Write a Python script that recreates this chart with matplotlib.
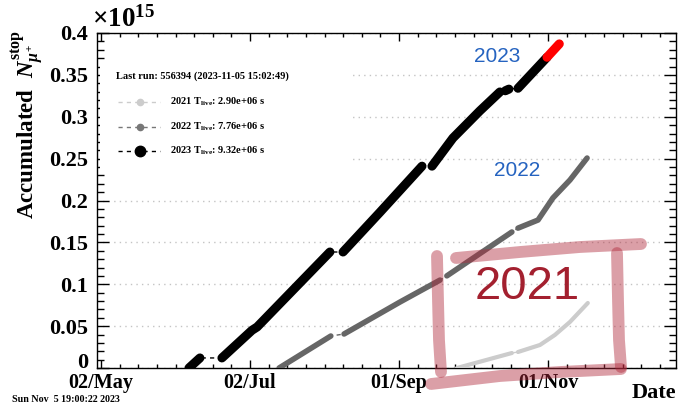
import matplotlib
matplotlib.use("Agg")
import matplotlib.pyplot as plt
import matplotlib.dates as mdates
from matplotlib.ticker import FixedLocator, MultipleLocator, FuncFormatter
from matplotlib.patches import Rectangle
from matplotlib.lines import Line2D
from datetime import datetime

plt.rcParams["font.family"] = ["Liberation Serif", "DejaVu Serif"]
plt.rcParams["font.weight"] = "bold"
plt.rcParams["mathtext.fontset"] = "custom"
plt.rcParams["mathtext.rm"] = "Liberation Serif:bold"
plt.rcParams["mathtext.it"] = "Liberation Serif:italic:bold"
plt.rcParams["mathtext.bf"] = "Liberation Serif:bold"

# ---- data (all years folded onto one calendar; values in units of 1e15) ----
dates_2023 = ["06-07 00", "06-11 12", "06-20 12", "07-02 19", "07-04 22", "08-03 17",
              "08-09 02", "08-24 05", "09-10 10", "09-14 12", "09-23 02", "10-04 02",
              "10-12 07", "10-14 12", "10-16 00", "10-19 17", "10-31 14"]
vals_2023 = [0.000, 0.012, 0.012, 0.045, 0.049, 0.1385,
             0.1385, 0.186, 0.241, 0.241, 0.2746, 0.307,
             0.3296, 0.331, 0.333, 0.334, 0.371]
runs_2023 = [0, 0, 1, 1, 1, 1, 2, 2, 2, 3, 3, 3, 3, 4, 4, 5, 5]

dates_latest = ["10-31 14", "11-05 15"]
vals_latest = [0.371, 0.387]

dates_2022 = ["07-13 22", "08-04 02", "08-09 12", "09-01 10", "09-17 19",
              "09-20 14", "10-17 05", "10-19 17", "10-27 22", "11-03 00",
              "11-10 00", "11-17 00"]
vals_2022 = [0.000, 0.0382, 0.0406, 0.0788, 0.105,
             0.110, 0.1624, 0.167, 0.1767, 0.203,
             0.2245, 0.2507]
runs_2022 = [0, 0, 1, 1, 1, 2, 2, 3, 3, 3, 3, 3]

dates_2021 = ["09-24 17", "10-17 05", "10-19 17", "10-28 17", "11-03 19",
              "11-10 00", "11-17 07"]
vals_2021 = [0.000, 0.0179, 0.0191, 0.0275, 0.0394, 0.055, 0.0776]
runs_2021 = [0, 0, 1, 1, 1, 1, 1]

live_times = ["2.90e+06", "7.76e+06", "9.32e+06"]
years = ["2021", "2022", "2023"]
last_run = "Last run: 556394 (2023-11-05 15:02:49)"
timestamp = "Sun Nov  5 19:00:22 2023"

major_dates = ["2023-05-02", "2023-07-02", "2023-09-01", "2023-11-01"]
major_labels = ["02/May", "02/Jul", "01/Sep", "01/Nov"]


def to_num(s):
    return mdates.date2num(datetime.strptime("2023-" + s, "%Y-%m-%d %H"))


W, H = 678, 405


def fx(px):
    return px / W


def fy(py):
    return 1 - py / H


fig = plt.figure(figsize=(W / 100, H / 100), dpi=100)
ax = fig.add_axes([fx(97), fy(368), fx(676) - fx(97), fy(33) - fy(368)])


def draw_series(dates, vals, runs, color, thick, dash_lw=1.0):
    x = [to_num(d) for d in dates]
    ax.plot(x, vals, color=color, lw=dash_lw, dashes=(3, 3), zorder=3)
    for r in sorted(set(runs)):
        xs = [xi for xi, ri in zip(x, runs) if ri == r]
        ys = [yi for yi, ri in zip(vals, runs) if ri == r]
        ax.plot(xs, ys, color=color, lw=thick, solid_capstyle="round",
                solid_joinstyle="round", zorder=4)


draw_series(dates_2021, vals_2021, runs_2021, "#cccccc", 3.0)
draw_series(dates_2022, vals_2022, runs_2022, "#666666", 4.0)
draw_series(dates_2023, vals_2023, runs_2023, "black", 6.5)
ax.plot([to_num(d) for d in dates_latest], vals_latest, color="red", lw=6.5,
        solid_capstyle="round", zorder=5)

# axes ranges and ticks
x0 = mdates.date2num(datetime(2023, 5, 2))
ax.set_xlim(x0 - 1.64, x0 + 235.4)
ax.set_ylim(0, 0.4)
majors = [mdates.date2num(datetime.strptime(d, "%Y-%m-%d")) for d in major_dates]
ax.xaxis.set_major_locator(FixedLocator(majors))
ax.set_xticklabels(major_labels)
minors = [x0 + k * 61 / 8 for k in range(0, 31)]
ax.xaxis.set_minor_locator(FixedLocator(minors))
ax.yaxis.set_major_locator(MultipleLocator(0.05))
ax.yaxis.set_minor_locator(MultipleLocator(0.01))
# the zero label is placed separately, lifted clear of the date labels
ax.yaxis.set_major_formatter(FuncFormatter(lambda v, p: "" if abs(v) < 1e-9 else f"{v:g}"))
ax.annotate("0", xy=(0, 0), xycoords=ax.get_yaxis_transform(), xytext=(-6.5, 3.5),
            textcoords="offset points", ha="right", va="center", fontsize=16,
            annotation_clip=False)

ax.tick_params(which="both", direction="in", top=True, right=True, width=1, color="black")
ax.tick_params(axis="y", which="major", length=8.5, pad=6.5, labelsize=16)
ax.tick_params(axis="y", which="minor", length=5)
ax.tick_params(axis="x", which="major", length=5.8, pad=3.5, labelsize=14.5)
ax.tick_params(axis="x", which="minor", length=3.2)
for sp in ax.spines.values():
    sp.set_linewidth(1)

ax.set_axisbelow(True)
ax.yaxis.grid(True, color="#c4c4c4", lw=1, ls=(0, (1, 3)))

# white box behind the legend block
fig.add_artist(Rectangle((fx(100), fy(170)), fx(350) - fx(100), fy(60) - fy(170),
                         transform=fig.transFigure, facecolor="white", edgecolor="none",
                         zorder=1))
ax.set_zorder(0)

# axis titles
fig.text(fx(28), fy(30), r"Accumulated  $N^{\mathrm{stop}}_{\mu^{+}}$", rotation=90,
         ha="center", va="top", fontsize=16.5)
fig.text(fx(676), fy(403), "Date", ha="right", va="bottom", fontsize=16)
fig.text(fx(92), fy(33), r"$\times10^{15}$", ha="left", va="bottom", fontsize=19.5,
         fontweight="normal")

# legend block
fig.text(fx(116), fy(76), last_run, ha="left", va="center", fontsize=7.5)
legend_styles = [("#cccccc", 4.5), ("#777777", 4.5), ("black", 7.5)]
for i, (yr, lt, (c, ms)) in enumerate(zip(years, live_times, legend_styles)):
    yy = fy(102 + 24.5 * i)
    fig.add_artist(Line2D([fx(118), fx(160)], [yy, yy], transform=fig.transFigure,
                          color=c, lw=1, dashes=(3, 3)))
    fig.add_artist(Line2D([fx(140)], [yy], transform=fig.transFigure, color=c,
                          marker="o", ms=ms, mec=c, ls="none"))
    fig.text(fx(170), yy, yr + r" T$_{\mathrm{live}}$: " + lt + " s", ha="left",
             va="center", fontsize=7.5)

fig.text(fx(12), fy(399), timestamp, ha="left", va="center", fontsize=7.2)

# year annotations
fig.text(fx(497), fy(56), "2023", ha="center", va="center", fontsize=15,
         color="#2563c0", family="Liberation Sans", fontweight="normal")
fig.text(fx(517), fy(170), "2022", ha="center", va="center", fontsize=15,
         color="#2563c0", family="Liberation Sans", fontweight="normal")

# hand-drawn highlight around the 2021 curve
strokes = [
    [(437, 256), (438, 300), (439, 340), (441, 372)],
    [(456, 258), (520, 252), (580, 247), (641, 244)],
    [(617, 253), (618, 300), (619, 340), (621, 367)],
    [(431, 384), (500, 376), (560, 372), (621, 369)],
]
for s in strokes:
    fig.add_artist(Line2D([fx(p[0]) for p in s], [fy(p[1]) for p in s],
                          transform=fig.transFigure, color="#b02a3c", alpha=0.45,
                          lw=8.5, solid_capstyle="round", solid_joinstyle="round",
                          zorder=10))
fig.text(fx(527), fy(287), "2021", ha="center", va="center", fontsize=34,
         color="#a3202f", family="Liberation Sans", fontweight="normal", zorder=11)

fig.savefig("out.png", dpi=100)
